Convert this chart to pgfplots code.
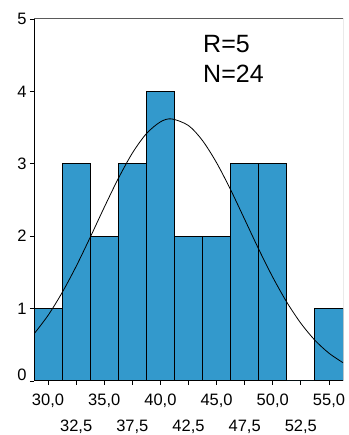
\documentclass[border=0pt]{standalone}
\usepackage{fontspec}
\setmainfont{Liberation Sans}
\usepackage{pgfplots}
\pgfplotsset{compat=1.18}
\definecolor{barblue}{RGB}{51,153,204}
\definecolor{framegray}{RGB}{90,90,90}
\begin{document}
\begin{tikzpicture}
\begin{axis}[
  scale only axis, width=309pt, height=362pt,
  at={(0,0)}, anchor=south west,
  xmin=28.75, xmax=56.25, ymin=0, ymax=5,
  axis x line*=bottom, axis y line*=left,
  axis line style={line width=1pt, -},
  ytick={1,2,3,4,5},
  extra y ticks={0},
  extra y tick style={yticklabel style={yshift=6pt}},
  xtick={30,35,40,45,50,55},
  extra x ticks={32.5,37.5,42.5,47.5,52.5},
  extra x tick style={xticklabel style={yshift=-26.5pt}},
  xticklabel style={yshift=-5pt, /pgf/number format/fixed, /pgf/number format/fixed zerofill, /pgf/number format/precision=1, /pgf/number format/use comma},
  tick align=outside, major tick length=4pt,
  tick style={black, line width=0.8pt},
  ticklabel style={font=\fontsize{16.5}{18}\selectfont},
  /pgf/number format/assume math mode=true,
]
\addplot[ybar, bar width=2.5, bar shift=0pt, fill=barblue, draw=black, line width=1pt]
  coordinates {(30,1) (32.5,3) (35,2) (37.5,3) (40,4) (42.5,2) (45,2) (47.5,3) (50,3) (52.5,0) (55,1)};
\addplot[smooth, black, line width=0.8pt, mark=none]
  coordinates {
  (28.75,0.650) (30,0.906) (31.25,1.220) (32.5,1.583) (33.75,1.984) (35,2.398)
  (36.25,2.796) (37.5,3.147) (38.75,3.416) (40,3.579) (41,3.620) (42.5,3.528)
  (43.75,3.320) (45,3.014) (46.25,2.641) (47.5,2.232) (48.75,1.820) (50,1.433)
  (51.25,1.088) (52.5,0.797) (53.75,0.563) (55,0.384) (56.25,0.253)};
\draw[framegray, line width=1pt] (rel axis cs:0,1) -- (rel axis cs:1,1) -- (rel axis cs:1,0);
\node[anchor=base west, inner sep=0pt, font=\fontsize{25}{30}\selectfont] at (axis cs:43.79,4.544) {R=5};
\node[anchor=base west, inner sep=0pt, font=\fontsize{25}{30}\selectfont] at (axis cs:43.79,4.12) {N=24};
\end{axis}
\pgfresetboundingbox
\path[use as bounding box] (-34pt,-54pt) rectangle (314pt,381pt);
\end{tikzpicture}
\end{document}
